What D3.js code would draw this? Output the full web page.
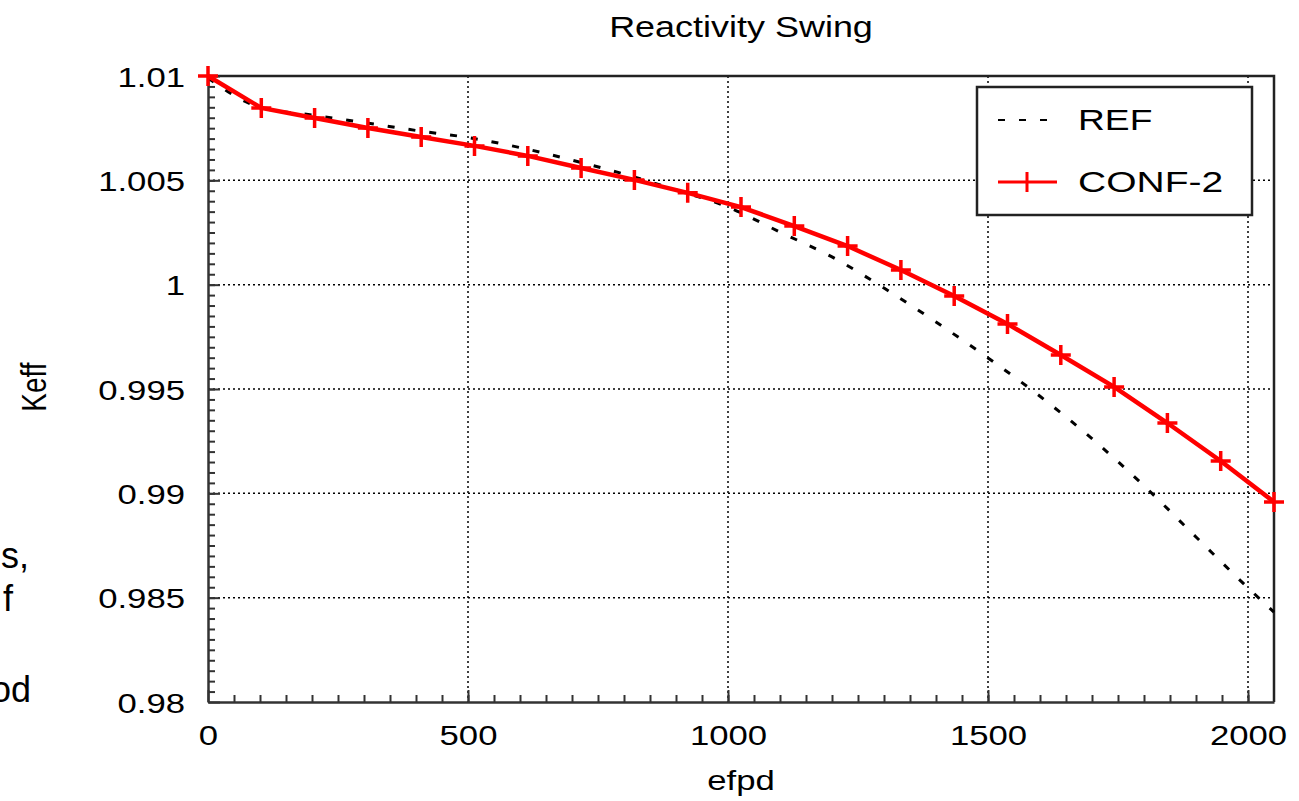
<!DOCTYPE html>
<html>
<head>
<meta charset="utf-8">
<script src="https://cdn.jsdelivr.net/npm/d3@7"></script>
<style>
  body { margin: 0; background: #fff; }
  text { font-family: 'Liberation Sans', Arial, sans-serif; fill: #000; }
</style>
</head>
<body>
<svg width="1299" height="801"></svg>
<script>

const refX = [0, 100, 200, 300, 400, 500, 600, 700, 800, 900, 1000, 1100, 1200, 1300, 1400, 1500, 1600, 1700, 1800, 1900, 2000, 2050];
const refY = [1.0099, 1.0085, 1.00813, 1.00777, 1.00739, 1.00705, 1.00657, 1.00597, 1.0053, 1.00454, 1.00372, 1.00252, 1.00133, 0.99984, 0.99821, 0.99649, 0.99465, 0.99262, 0.99036, 0.98791, 0.98547, 0.98431];

const confX = [0, 102.5, 205, 307.5, 410, 512.5, 615, 717.5, 820, 922.5, 1025, 1127.5, 1230, 1332.5, 1435, 1537.5, 1640, 1742.5, 1845, 1947.5, 2050];
const confY = [1.0100, 1.00847, 1.00799, 1.00751, 1.00708, 1.00665, 1.00617, 1.00559, 1.00502, 1.0044, 1.00372, 1.00281, 1.00185, 1.0007, 0.99946, 0.99812, 0.99663, 0.9951, 0.99337, 0.99155, 0.98959];

const xTicks = [0, 500, 1000, 1500, 2000];
const yTicks = [0.98, 0.985, 0.99, 0.995, 1, 1.005, 1.01];
const yTickLabels = ['0.98', '0.985', '0.99', '0.995', '1', '1.005', '1.01'];

const seriesNames = ['REF', 'CONF-2'];

const svg = d3.select('svg'),
    width = +svg.attr('width'),
    height = +svg.attr('height'),
    pLeft = 208, pRight = 1274, pTop = 76, pBottom = 702,
    stretch = 1.24;

const x = d3.scaleLinear().domain([0, 2050]).range([pLeft, pRight]);
const y = d3.scaleLinear().domain([0.98, 1.01]).range([pBottom, pTop]);

// grid (dotted) at the major ticks
svg.append('g')
    .selectAll('line')
    .data(xTicks.slice(1))
    .enter().append('line')
    .attr('x1', d => x(d)).attr('x2', d => x(d))
    .attr('y1', pTop).attr('y2', pBottom)
    .attr('stroke', '#000')
    .attr('stroke-width', 1.5)
    .attr('stroke-dasharray', '2,3');

svg.append('g')
    .selectAll('line')
    .data(yTicks.slice(1, -1))
    .enter().append('line')
    .attr('x1', pLeft).attr('x2', pRight)
    .attr('y1', d => y(d)).attr('y2', d => y(d))
    .attr('stroke', '#000')
    .attr('stroke-width', 1.5)
    .attr('stroke-dasharray', '2,3');

// frame top / right
svg.append('path')
    .attr('d', `M${pLeft},${pTop}H${pRight}V${pBottom}`)
    .attr('fill', 'none')
    .attr('stroke', '#222')
    .attr('stroke-width', 2.5);

// minor ticks, pointing inwards
svg.append('g')
    .attr('transform', `translate(0,${pBottom})`)
    .call(d3.axisBottom(x).tickValues(d3.range(50, 2050, 50)).tickFormat('').tickSizeInner(-7).tickSizeOuter(0))
    .call(g => g.select('.domain').remove())
    .selectAll('line').attr('stroke', '#333').attr('stroke-width', 2);

svg.append('g')
    .attr('transform', `translate(${pLeft},0)`)
    .call(d3.axisLeft(y).tickValues(d3.range(0.9805, 1.0099, 0.0005)).tickFormat('').tickSizeInner(-7).tickSizeOuter(0))
    .call(g => g.select('.domain').remove())
    .selectAll('line').attr('stroke', '#333').attr('stroke-width', 2);

// main axes with labels
const xAxis = svg.append('g')
    .attr('transform', `translate(0,${pBottom})`)
    .call(d3.axisBottom(x).tickValues(xTicks).tickFormat(d3.format('d')).tickSizeInner(-12).tickSizeOuter(0));

xAxis.select('.domain').attr('stroke', '#333').attr('stroke-width', 2.5);
xAxis.selectAll('line').attr('stroke', '#333').attr('stroke-width', 2);
xAxis.selectAll('text')
    .attr('y', 0)
    .attr('dy', null)
    .attr('font-size', 28)
    .attr('font-family', null)
    .attr('transform', 'translate(0,43) scale(' + stretch + ',1)');

const yAxis = svg.append('g')
    .attr('transform', `translate(${pLeft},0)`)
    .call(d3.axisLeft(y).tickValues(yTicks).tickFormat((d, i) => yTickLabels[i]).tickSizeInner(-12).tickSizeOuter(0));

yAxis.select('.domain').attr('stroke', '#333').attr('stroke-width', 2.5);
yAxis.selectAll('line').attr('stroke', '#333').attr('stroke-width', 2);
yAxis.selectAll('text')
    .attr('x', 0)
    .attr('dy', '0.36em')
    .attr('font-size', 28)
    .attr('font-family', null)
    .attr('transform', 'translate(-23,0) scale(' + stretch + ',1)');

// REF curve
const refData = refX.map((d, i) => [d, refY[i]]);
svg.append('path')
    .datum(refData)
    .attr('fill', 'none')
    .attr('stroke', '#000')
    .attr('stroke-width', 3)
    .attr('stroke-dasharray', '7,14')
    .attr('d', d3.line().x(d => x(d[0])).y(d => y(d[1])).curve(d3.curveMonotoneX));

// CONF-2 curve + markers
const confData = confX.map((d, i) => [d, confY[i]]);
svg.append('path')
    .datum(confData)
    .attr('fill', 'none')
    .attr('stroke', '#ff0000')
    .attr('stroke-width', 4.5)
    .attr('d', d3.line().x(d => x(d[0])).y(d => y(d[1])));

const plus = 10;
svg.append('g')
    .selectAll('path')
    .data(confData)
    .enter().append('path')
    .attr('d', d => `M${x(d[0]) - plus},${y(d[1])}h${2 * plus}M${x(d[0])},${y(d[1]) - plus}v${2 * plus}`)
    .attr('stroke', '#ff0000')
    .attr('stroke-width', 3.5);

// titles
svg.append('text')
    .attr('text-anchor', 'middle')
    .attr('font-size', 29)
    .attr('transform', `translate(${(pLeft + pRight) / 2},37) scale(${stretch},1)`)
    .text('Reactivity Swing');

svg.append('text')
    .attr('text-anchor', 'middle')
    .attr('font-size', 28)
    .attr('transform', `translate(${(pLeft + pRight) / 2},790) scale(${stretch},1)`)
    .text('efpd');

svg.append('text')
    .attr('text-anchor', 'middle')
    .attr('font-size', 28)
    .attr('transform', `translate(46,387) scale(${stretch},1) rotate(-90)`)
    .text('Keff');

// legend
const legend = svg.append('g').attr('transform', 'translate(977,87)');

legend.append('rect')
    .attr('width', 275)
    .attr('height', 128)
    .attr('fill', '#fff')
    .attr('stroke', '#222')
    .attr('stroke-width', 2.5);

legend.append('line')
    .attr('x1', 21).attr('x2', 77)
    .attr('y1', 33).attr('y2', 33)
    .attr('stroke', '#000')
    .attr('stroke-width', 2)
    .attr('stroke-dasharray', '7,14');

legend.append('line')
    .attr('x1', 21).attr('x2', 80)
    .attr('y1', 95).attr('y2', 95)
    .attr('stroke', '#ff0000')
    .attr('stroke-width', 3);

legend.append('path')
    .attr('d', `M50,${95 - plus}v${2 * plus}`)
    .attr('stroke', '#ff0000')
    .attr('stroke-width', 3);

legend.selectAll('text.lg')
    .data(seriesNames)
    .enter().append('text')
    .attr('class', 'lg')
    .attr('font-size', 30)
    .attr('transform', (d, i) => `translate(101,${43 + i * 62}) scale(${d === 'CONF-2' ? 1.3 : stretch},1)`)
    .text(d => d);

// clipped slide text on the far left
const sideText = ['s,', 'f', 'od'];
const sidePos = [[29, 568], [13, 611], [31, 702]];
svg.append('g')
    .selectAll('text')
    .data(sideText)
    .enter().append('text')
    .attr('text-anchor', 'end')
    .attr('font-size', 36)
    .attr('x', (d, i) => sidePos[i][0])
    .attr('y', (d, i) => sidePos[i][1])
    .text(d => d);

</script>
</body>
</html>
